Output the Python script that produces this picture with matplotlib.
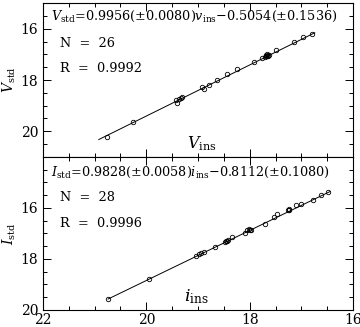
import matplotlib
matplotlib.use('Agg')
import matplotlib.pyplot as plt
from matplotlib.ticker import MultipleLocator, FixedFormatter, FixedLocator

plt.rcParams['font.family'] = 'DejaVu Serif'
plt.rcParams['mathtext.fontset'] = 'custom'
plt.rcParams['mathtext.rm'] = 'DejaVu Serif'
plt.rcParams['mathtext.it'] = 'DejaVu Serif:italic'

# V band: instrumental vs standard magnitudes
v_ins = [20.76, 20.25, 19.42, 19.41, 19.36, 19.33, 19.30, 18.92, 18.88, 18.79,
         18.63, 18.44, 18.25, 17.91, 17.77, 17.71, 17.69, 17.67, 17.65, 17.63,
         17.68, 17.66, 17.49, 17.15, 16.96, 16.80]
V_std = [20.24, 19.64, 18.78, 18.89, 18.74, 18.69, 18.65, 18.27, 18.35, 18.18,
         18.01, 17.78, 17.58, 17.29, 17.13, 17.10, 17.07, 17.00, 17.06, 17.02,
         17.04, 17.08, 16.82, 16.50, 16.31, 16.21]
v_fit = [20.92, 16.74]
V_fit = [20.32, 16.16]

# I band
i_ins = [20.74, 19.95, 19.04, 18.99, 18.95, 18.88, 18.68, 18.48, 18.45, 18.43,
         18.42, 18.34, 18.10, 18.05, 18.02, 18.00, 17.97, 17.71, 17.52, 17.48,
         17.25, 17.23, 17.24, 17.10, 17.00, 16.78, 16.62, 16.49]
I_std = [19.56, 18.78, 17.88, 17.81, 17.76, 17.73, 17.54, 17.32, 17.29, 17.28,
         17.27, 17.15, 16.98, 16.87, 16.83, 16.85, 16.87, 16.61, 16.35, 16.24,
         16.06, 16.09, 16.04, 15.90, 15.83, 15.67, 15.50, 15.39]
i_fit = [20.74, 16.45]
I_fit = [19.57, 15.36]

y_ticks_top = [16, 18, 20]
y_ticks_bot = [16, 18, 20]

fig = plt.figure(figsize=(3.6, 3.27), dpi=100)
ax1 = fig.add_axes([0.1194, 0.5199, 0.8612, 0.4709])
ax2 = fig.add_axes([0.1194, 0.052, 0.8612, 0.4679])

for ax in (ax1, ax2):
    ax.set_xlim(22, 16)
    ax.xaxis.set_major_locator(MultipleLocator(2))
    ax.xaxis.set_minor_locator(MultipleLocator(0.5))
    ax.yaxis.set_minor_locator(MultipleLocator(0.5))
    ax.tick_params(which='both', direction='in', top=True, right=True,
                   labelsize=10, width=0.7)
    ax.tick_params(which='major', length=5.5)
    ax.tick_params(which='minor', length=3)
    for s in ax.spines.values():
        s.set_linewidth(0.8)

ax1.set_ylim(21, 15)
ax2.set_ylim(20, 14)
ax1.yaxis.set_major_locator(FixedLocator(y_ticks_top))
ax2.yaxis.set_major_locator(FixedLocator([14] + y_ticks_bot))
ax2.yaxis.set_major_formatter(FixedFormatter([''] + [str(t) for t in y_ticks_bot]))
ax1.tick_params(labelbottom=False)
ax2.tick_params(axis='x', pad=2)

ax1.plot(v_fit, V_fit, color='black', lw=0.7)
ax1.plot(v_ins, V_std, 'o', mfc='none', mec='black', ms=3.2, mew=0.6)
ax2.plot(i_fit, I_fit, color='black', lw=0.7)
ax2.plot(i_ins, I_std, 'o', mfc='none', mec='black', ms=3.2, mew=0.6)

ax1.text(0.025, 0.915, r'$V_{\rm std}$=0.9956(±0.0080)$v_{\rm ins}$−0.5054(±0.1536)',
         transform=ax1.transAxes, fontsize=9.2, va='center')
ax1.text(0.055, 0.74, 'N  =  26', transform=ax1.transAxes, fontsize=9.3, va='center')
ax1.text(0.055, 0.575, 'R  =  0.9992', transform=ax1.transAxes, fontsize=9.3, va='center')
ax1.text(0.465, 0.085, r'$V_{\rm ins}$', transform=ax1.transAxes, fontsize=11.5, va='center')

ax2.text(0.025, 0.9, r'$I_{\rm std}$=0.9828(±0.0058)$i_{\rm ins}$−0.8112(±0.1080)',
         transform=ax2.transAxes, fontsize=9.2, va='center')
ax2.text(0.055, 0.735, 'N  =  28', transform=ax2.transAxes, fontsize=9.3, va='center')
ax2.text(0.055, 0.565, 'R  =  0.9996', transform=ax2.transAxes, fontsize=9.3, va='center')
ax2.text(0.455, 0.09, r'$i_{\rm ins}$', transform=ax2.transAxes, fontsize=12.5, va='center')

ax1.set_ylabel(r'$V_{\rm std}$', fontsize=10, labelpad=2)
ax2.set_ylabel(r'$I_{\rm std}$', fontsize=10, labelpad=2)

fig.savefig('out.png', dpi=100)
